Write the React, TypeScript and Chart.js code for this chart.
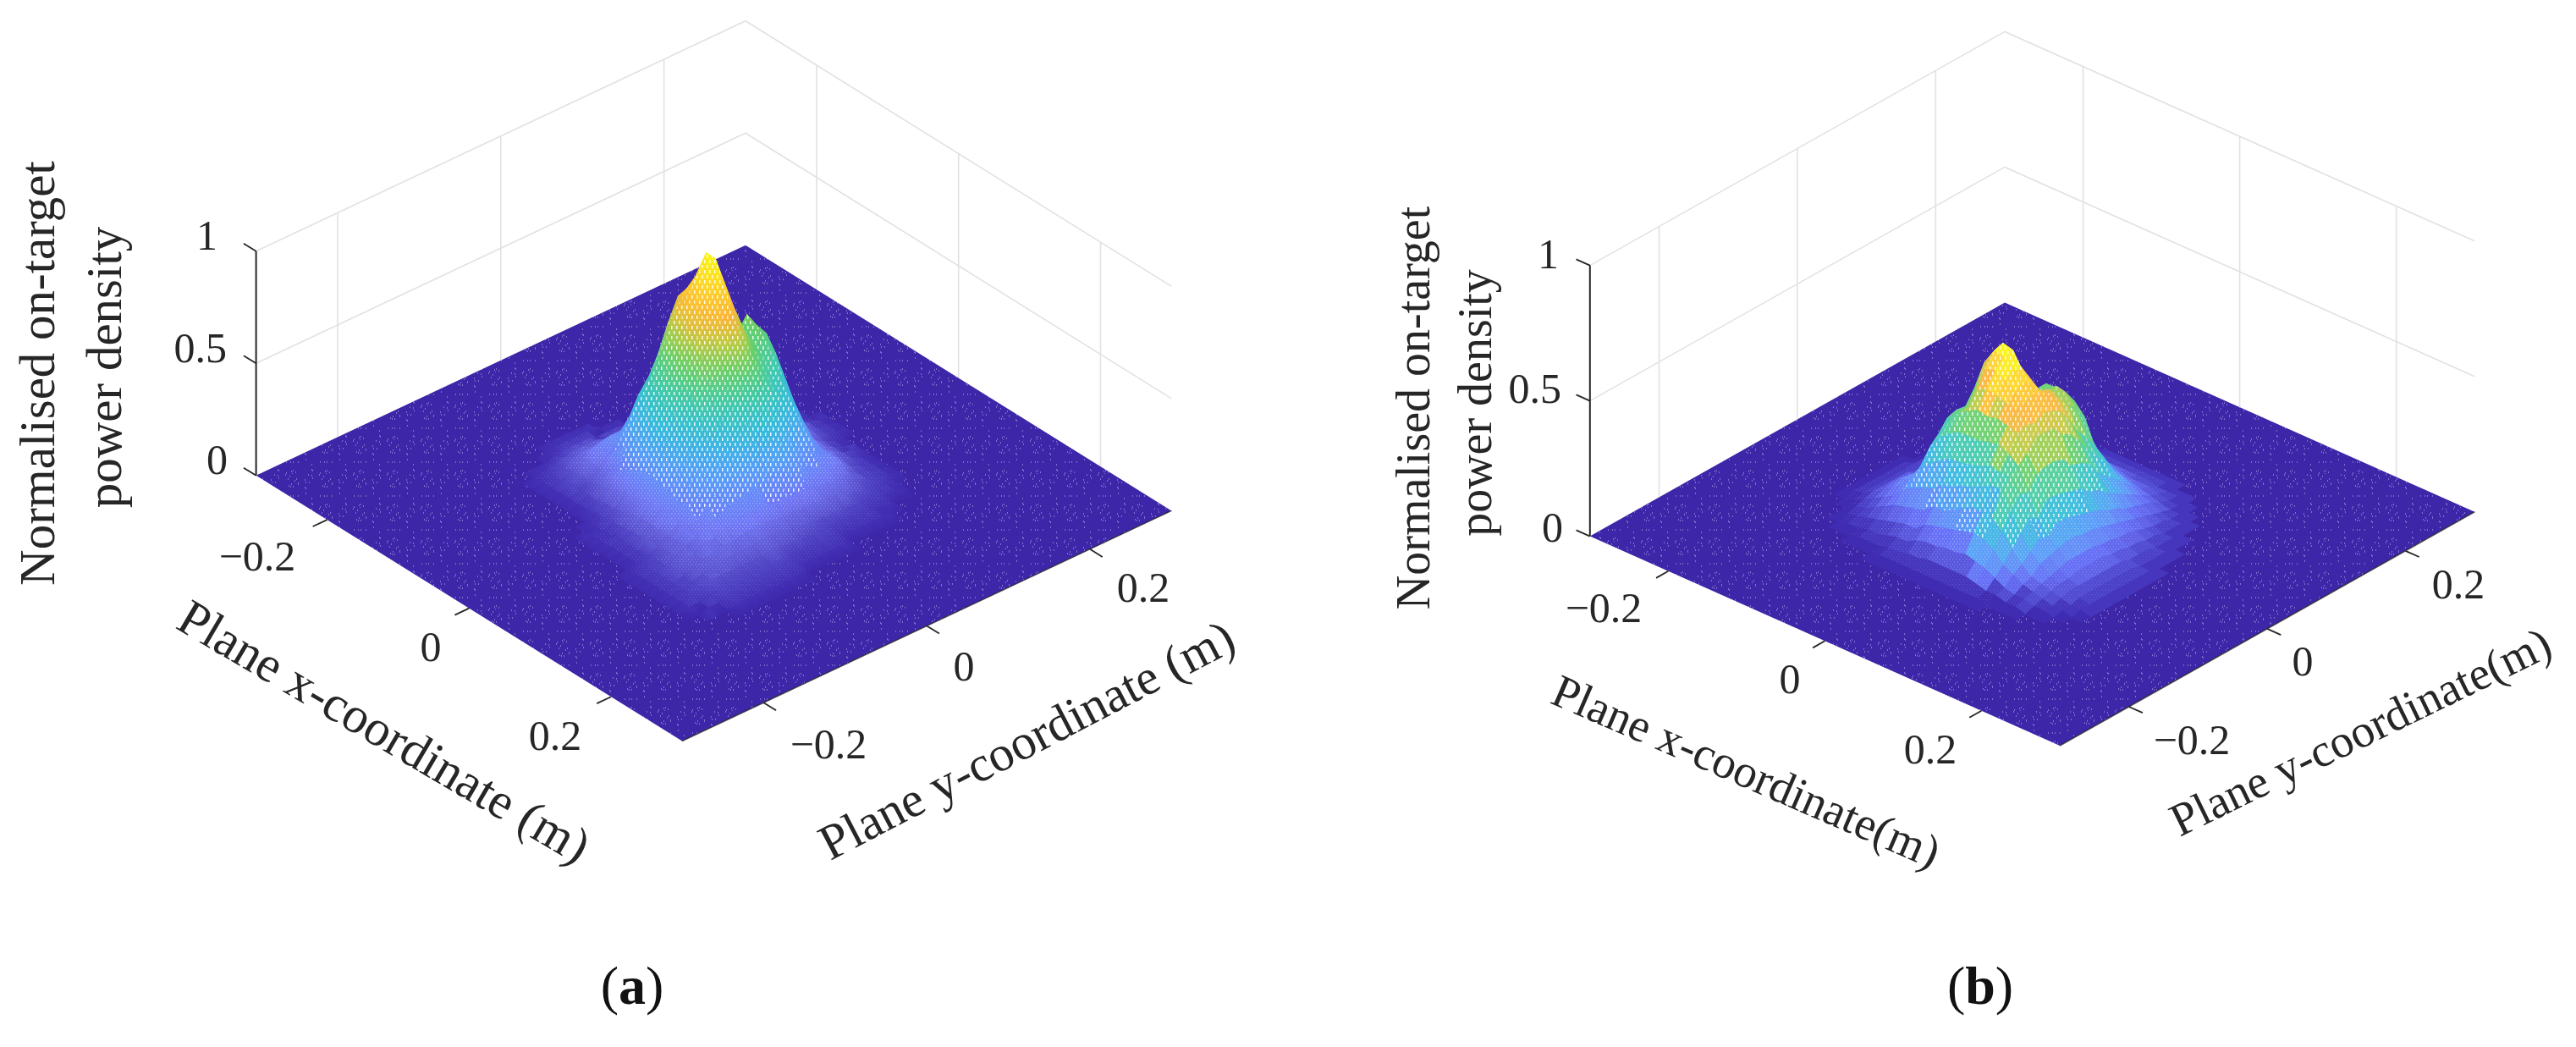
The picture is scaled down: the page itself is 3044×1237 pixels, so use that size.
import React, { useEffect, useRef } from "react";
import { Chart, registerables } from "chart.js";

Chart.register(...registerables);

const X_TICKS = [-0.2, 0, 0.2];
const Y_TICKS = [-0.2, 0, 0.2];
const Z_TICKS = [0, 0.5, 1];
const X_LABEL_A = "Plane x-coordinate (m)";
const Y_LABEL_A = "Plane y-coordinate (m)";
const X_LABEL_B = "Plane x-coordinate(m)";
const Y_LABEL_B = "Plane y-coordinate(m)";
const Z_LABEL = ["Normalised on-target", "power density"];
const GRID_START = -0.1875;
const GRID_STEP = 0.0125;

// Height, in percent. Rows: x, columns: y.
const HEIGHTS_A = [
[0,0,0,0,0,0,0,0,0,0,0,0,0,0,0,0,0,0,0,0,0,0,0,0,0,0,0,0,0,0,0],
[0,0,0,0,0,0,0,0,0,0,0,0,0,0,0,0,0,0,0,0,0,0,0,0,0,0,0,0,0,0,0],
[0,0,0,0,0,0,0,0,0,1,1,1,1,1,1,0,0,0,0,0,0,0,0,0,0,0,0,0,0,0,0],
[0,0,0,0,0,0,0,1,1,1,2,2,2,2,1,1,1,1,1,1,0,0,0,0,0,0,0,0,0,0,0],
[0,0,0,0,0,0,1,1,1,2,3,3,3,2,2,2,1,1,1,1,1,0,0,0,0,0,0,0,0,0,0],
[0,0,0,0,0,1,1,2,3,4,5,5,5,4,4,4,3,3,2,2,1,1,0,0,0,0,0,0,0,0,0],
[0,0,0,0,1,1,2,3,4,6,7,7,7,6,6,5,5,4,3,3,2,2,1,0,0,0,0,0,0,0,0],
[0,0,0,0,1,1,2,3,5,8,11,12,12,12,11,11,10,8,6,5,4,3,2,1,1,0,0,0,0,0,0],
[0,0,0,1,1,1,2,4,6,10,15,17,17,17,17,16,15,12,9,8,6,4,3,2,1,0,0,0,0,0,0],
[0,0,0,1,1,1,2,3,5,8,13,20,26,31,33,33,28,22,16,13,9,6,4,2,1,1,0,0,0,0,0],
[0,0,0,1,1,1,2,4,6,10,18,27,38,44,48,50,42,32,24,18,12,9,6,3,2,1,1,0,0,0,0],
[0,0,0,1,1,1,2,4,7,13,22,33,46,56,68,78,66,52,42,36,34,28,16,8,5,2,1,1,0,0,0],
[0,0,1,1,1,1,3,5,9,16,27,39,52,66,78,84,84,70,58,52,54,46,26,14,8,4,2,1,1,0,0],
[0,0,1,1,1,2,3,5,10,18,30,42,55,68,82,92,100,78,64,56,64,54,34,18,10,5,3,2,1,0,0],
[0,0,1,1,2,2,4,6,11,20,32,46,59,71,84,95,100,82,66,56,62,56,40,22,12,6,3,2,1,0,0],
[0,0,1,1,2,2,4,7,12,20,29,42,55,69,80,88,92,78,66,58,58,50,36,20,10,5,3,2,1,0,0],
[0,0,1,1,2,3,5,8,13,19,26,37,51,67,76,80,80,70,60,54,50,40,28,14,7,4,2,1,1,0,0],
[0,0,1,1,2,3,5,8,12,18,24,32,42,55,64,70,70,62,54,47,44,34,20,12,7,4,2,1,1,0,0],
[0,0,1,1,2,3,6,8,14,16,22,27,33,42,51,58,59,54,48,42,38,28,17,9,7,4,3,1,1,0,0],
[0,0,1,1,2,3,5,8,11,17,20,24,28,33,38,43,45,43,38,32,29,22,15,10,6,4,2,1,1,0,0],
[0,0,1,2,3,4,6,8,12,13,18,21,22,24,26,29,32,33,29,23,21,17,15,10,5,3,2,1,1,0,0],
[0,0,1,2,3,4,6,8,10,13,14,17,18,19,20,21,22,23,21,17,16,13,12,7,4,3,2,1,1,0,0],
[0,0,1,2,3,5,7,7,10,10,12,13,14,14,14,13,13,13,13,11,11,10,7,5,4,3,2,1,0,0,0],
[0,0,1,2,3,4,6,7,8,9,9,10,11,10,10,9,9,9,9,8,8,6,5,4,3,2,1,1,0,0,0],
[0,0,1,2,3,4,5,6,7,7,7,7,8,7,7,6,6,5,5,5,4,4,3,3,2,2,1,0,0,0,0],
[0,0,1,2,3,4,5,5,5,5,5,5,6,5,5,4,4,4,3,3,3,3,2,2,1,1,0,0,0,0,0],
[0,0,1,2,2,3,4,4,4,4,4,4,4,3,3,3,3,3,2,2,2,2,2,1,1,0,0,0,0,0,0],
[0,0,0,1,2,2,3,3,3,3,3,3,3,2,2,2,2,2,1,1,1,1,1,1,0,0,0,0,0,0,0],
[0,0,0,1,1,1,2,2,2,2,2,2,2,1,1,1,1,1,1,1,0,0,0,0,0,0,0,0,0,0,0],
[0,0,0,0,0,0,1,1,1,1,1,1,1,0,0,0,0,0,0,0,0,0,0,0,0,0,0,0,0,0,0],
[0,0,0,0,0,0,0,0,0,0,0,0,0,0,0,0,0,0,0,0,0,0,0,0,0,0,0,0,0,0,0],
];

// Height, in percent. Rows: x, columns: y.
const HEIGHTS_B = [
[0,0,0,0,0,0,0,0,0,0,0,0,0,0,0,0,0,0,0,0,0,0,0,0,0,0,0,0,0,0,0],
[0,0,0,0,0,0,0,1,1,1,1,1,1,1,1,1,1,1,0,0,0,0,0,0,0,0,0,0,0,0,0],
[0,0,0,0,0,0,1,1,1,2,2,2,2,2,2,2,1,1,1,0,0,0,0,0,0,0,0,0,0,0,0],
[0,0,0,0,0,1,1,1,2,3,3,3,3,3,3,3,3,2,2,1,1,0,0,0,0,0,0,0,0,0,0],
[0,0,0,0,1,1,2,3,4,5,5,5,5,5,4,4,4,3,2,1,1,0,0,0,0,0,0,0,0,0,0],
[0,0,0,1,1,2,3,4,6,7,8,8,7,6,6,6,5,4,4,2,2,1,1,1,0,0,0,0,0,0,0],
[0,0,0,1,1,2,4,6,8,10,11,11,10,10,9,9,8,6,5,3,2,2,1,1,0,0,0,0,0,0,0],
[0,0,1,1,2,3,5,8,10,12,12,12,12,13,14,14,12,10,8,5,4,3,2,1,1,0,0,0,0,0,0],
[0,0,1,1,2,3,6,10,14,17,19,20,21,21,22,21,17,14,10,7,5,3,2,1,1,0,0,0,0,0,0],
[0,0,1,1,2,4,7,11,16,22,28,31,35,36,35,31,25,19,14,11,7,5,3,2,1,1,0,0,0,0,0],
[0,0,1,2,3,5,8,12,18,25,33,37,37,39,44,42,32,24,18,14,9,6,4,3,1,1,0,0,0,0,0],
[0,0,1,2,3,5,8,13,19,28,36,42,42,47,55,54,43,34,28,27,26,20,12,7,3,2,1,1,0,0,0],
[0,0,1,2,4,7,11,16,22,30,38,44,50,56,61,62,54,50,38,38,38,30,18,10,5,3,2,1,0,0,0],
[0,0,1,2,4,8,12,16,23,30,38,46,52,57,60,61,52,47,38,40,38,34,20,11,6,3,2,1,0,0,0],
[0,0,1,2,5,8,13,18,25,31,38,45,51,55,57,55,49,44,42,42,38,33,22,12,6,3,2,1,0,0,0],
[0,0,1,2,5,9,14,20,26,32,39,46,50,52,54,52,47,46,41,37,34,29,18,10,6,3,2,1,1,0,0],
[0,0,1,2,5,9,15,22,28,34,40,45,49,50,51,50,48,44,40,36,28,20,13,8,5,3,2,1,1,0,0],
[0,0,1,2,5,10,16,22,30,33,38,44,45,44,46,45,43,38,32,28,23,17,11,7,4,3,2,1,1,0,0],
[0,0,1,2,5,9,15,21,30,33,35,38,42,42,42,38,36,32,27,23,19,14,10,6,4,3,2,1,0,0,0],
[0,0,1,2,4,8,13,18,24,28,27,32,33,33,32,28,27,25,20,17,14,11,8,5,4,2,2,1,0,0,0],
[0,0,1,2,3,6,9,13,17,21,19,24,24,23,22,21,18,17,14,12,10,8,6,4,3,2,1,1,0,0,0],
[0,0,1,1,3,4,7,9,12,15,14,17,17,16,15,14,13,11,10,8,7,6,5,3,2,2,1,0,0,0,0],
[0,0,0,1,2,3,5,6,9,10,11,12,12,11,11,10,9,8,7,6,5,4,3,2,2,1,1,0,0,0,0],
[0,0,0,1,2,3,4,5,6,7,8,8,8,8,7,7,6,6,5,4,3,3,2,2,1,1,0,0,0,0,0],
[0,0,0,1,1,2,3,4,5,5,6,6,6,6,5,5,4,4,3,3,2,2,2,1,1,0,0,0,0,0,0],
[0,0,0,1,1,2,2,3,4,4,4,4,4,4,4,3,3,3,2,2,2,1,1,1,0,0,0,0,0,0,0],
[0,0,0,0,1,1,2,2,3,3,3,3,3,3,3,2,2,2,2,1,1,1,1,0,0,0,0,0,0,0,0],
[0,0,0,0,1,1,1,2,2,2,2,2,2,2,2,2,1,1,1,1,1,0,0,0,0,0,0,0,0,0,0],
[0,0,0,0,0,1,1,1,1,1,1,1,1,1,1,1,1,1,1,0,0,0,0,0,0,0,0,0,0,0,0],
[0,0,0,0,0,0,0,0,0,0,0,0,0,0,0,0,0,0,0,0,0,0,0,0,0,0,0,0,0,0,0],
[0,0,0,0,0,0,0,0,0,0,0,0,0,0,0,0,0,0,0,0,0,0,0,0,0,0,0,0,0,0,0],
];

type P = { x: number; y: number };
const SERIF = '"Liberation Serif", serif';
const INK = "#262626";
const GRID = "#e2e2e2";
const FLOOR = "#3e26a8";

const PARULA: number[][] = [
  [0, 62, 38, 168], [0.125, 72, 82, 244], [0.25, 46, 135, 247], [0.375, 18, 177, 214],
  [0.5, 45, 197, 160], [0.62, 95, 204, 90], [0.72, 190, 200, 55], [0.8, 250, 178, 50],
  [0.9, 254, 208, 40], [1, 250, 245, 20],
];
// How much of the white behind the mesh shows through at a given height.
const SHOW_THROUGH: number[][] = [
  [0, 0], [0.01, 0], [0.03, 0.05], [0.06, 0.14], [0.12, 0.22], [0.25, 0.2], [0.5, 0.1], [0.8, 0.03], [1, 0],
];
function lookup(table: number[][], t: number) {
  let k = 0;
  while (k < table.length - 2 && t > table[k + 1][0]) k++;
  const a = table[k], b = table[k + 1];
  const f = Math.max(0, Math.min(1, (t - a[0]) / (b[0] - a[0])));
  return a.slice(1).map((v, n) => v + (b[n + 1] - v) * f);
}
function shade(z: number, peak: number) {
  const rgb = lookup(PARULA, (z * 100) / peak);
  const [m] = lookup(SHOW_THROUGH, z);
  return `rgb(${rgb.map((c) => Math.round(c + (255 - c) * m)).join(",")})`;
}

function tile(w: number, h: number, paint: (c: CanvasRenderingContext2D) => void) {
  const cv = document.createElement("canvas");
  cv.width = w;
  cv.height = h;
  const c = cv.getContext("2d")!;
  paint(c);
  return c.createPattern(cv, "repeat")!;
}

function floorTile() {
  return tile(40, 40, (c) => {
    c.fillStyle = FLOOR;
    c.fillRect(0, 0, 40, 40);
    c.fillStyle = "rgba(128,112,205,0.75)";
    let s = 7;
    for (let n = 0; n < 110; n++) {
      s = (s * 137 + 59) % 1601;
      const x = s % 40;
      s = (s * 137 + 59) % 1601;
      const y = s % 40;
      c.fillRect(x, y, 1, 2);
    }
  });
}

function meshTiles() {
  const levels: CanvasPattern[][] = [];
  for (let l = 0; l <= 10; l++) {
    const a = l / 10;
    const fine = tile(4, 6, (c) => {
      c.fillStyle = `rgba(255,255,255,${a})`;
      c.fillRect(1, 0, 1.5, 1.5);
      c.fillRect(3, 3, 1.5, 1.5);
    });
    const coarse = tile(6, 12, (c) => {
      c.fillStyle = `rgba(255,255,255,${a})`;
      c.fillRect(1, 1, 1.5, 4);
      c.fillRect(4, 7, 1.5, 4);
    });
    levels.push([fine, coarse]);
  }
  return levels;
}

type Panel = {
  heights: number[][];
  peak: number;
  left: P; back: P; front: P;
  zPx: number;
  xMin: number; xMax: number;
  texts: { t: string; x: number; y: number; size: number; rot?: number; align?: CanvasTextAlign }[];
  caption: { letter: string; x: number; y: number };
};

const fmt = (v: number) => (v < 0 ? "\u2212" : "") + String(Math.abs(v));

const PANEL_A: Panel = {
  heights: HEIGHTS_A,
  peak: 100,
  left: { x: 302.6, y: 561.8 },
  back: { x: 881, y: 289.7 },
  front: { x: 806, y: 875.5 },
  zPx: 265,
  xMin: 0, xMax: 1522,
  texts: [
    { t: Z_LABEL[0], x: 48, y: 441, size: 59, rot: -90 },
    { t: Z_LABEL[1], x: 127, y: 434, size: 59, rot: -90 },
    { t: fmt(Z_TICKS[0]), x: 269, y: 547, size: 50, align: "right" },
    { t: fmt(Z_TICKS[1]), x: 268, y: 415, size: 50, align: "right" },
    { t: fmt(Z_TICKS[2]), x: 257, y: 282, size: 50, align: "right" },
    { t: fmt(X_TICKS[0]), x: 304, y: 661, size: 50 },
    { t: fmt(X_TICKS[1]), x: 509, y: 768, size: 50 },
    { t: fmt(X_TICKS[2]), x: 656, y: 873, size: 50 },
    { t: fmt(Y_TICKS[0]), x: 979, y: 883, size: 50 },
    { t: fmt(Y_TICKS[1]), x: 1139, y: 791, size: 50 },
    { t: fmt(Y_TICKS[2]), x: 1351, y: 698, size: 50 },
    { t: X_LABEL_A, x: 452, y: 868, size: 60, rot: 30.5 },
    { t: Y_LABEL_A, x: 1215, y: 878, size: 59, rot: -27.5 },
  ],
  caption: { letter: "a", x: 747, y: 1169 },
};

const PANEL_B: Panel = {
  heights: HEIGHTS_B,
  peak: 62,
  left: { x: 1878.8, y: 633.6 },
  back: { x: 2369, y: 357.4 },
  front: { x: 2434, y: 881 },
  zPx: 320,
  xMin: 1522, xMax: 3044,
  texts: [
    { t: Z_LABEL[0], x: 1674, y: 482, size: 56, rot: -90 },
    { t: Z_LABEL[1], x: 1747, y: 476, size: 56, rot: -90 },
    { t: fmt(Z_TICKS[0]), x: 1847, y: 627, size: 50, align: "right" },
    { t: fmt(Z_TICKS[1]), x: 1845, y: 463, size: 50, align: "right" },
    { t: fmt(Z_TICKS[2]), x: 1842, y: 304, size: 50, align: "right" },
    { t: fmt(X_TICKS[0]), x: 1895, y: 722, size: 50 },
    { t: fmt(X_TICKS[1]), x: 2115, y: 806, size: 50 },
    { t: fmt(X_TICKS[2]), x: 2281, y: 889, size: 50 },
    { t: fmt(Y_TICKS[0]), x: 2590, y: 878, size: 50 },
    { t: fmt(Y_TICKS[1]), x: 2721, y: 785, size: 50 },
    { t: fmt(Y_TICKS[2]), x: 2905, y: 694, size: 50 },
    { t: X_LABEL_B, x: 2062, y: 915, size: 55, rot: 23.5 },
    { t: Y_LABEL_B, x: 2791, y: 868, size: 55, rot: -26 },
  ],
  caption: { letter: "b", x: 2340, y: 1169 },
};

function buildDatasets(p: Panel, ctx: CanvasRenderingContext2D) {
  const ux = (p.front.x - p.left.x) / 0.6, uy = (p.front.y - p.left.y) / 0.6;
  const vx = (p.back.x - p.left.x) / 0.6, vy = (p.back.y - p.left.y) / 0.6;
  const proj = (x: number, y: number, z: number): P => ({
    x: p.left.x + (x + 0.3) * ux + (y + 0.3) * vx,
    y: p.left.y + (x + 0.3) * uy + (y + 0.3) * vy - z * p.zPx,
  });
  const ds: any[] = [];
  const line = (pts: P[], color: string, width: number) =>
    ds.push({ data: pts, borderColor: color, borderWidth: width, fill: false, pointRadius: 0, tension: 0 });
  const area = (pts: P[], bg: any, border: any = "transparent", width = 0) =>
    ds.push({ data: [...pts, pts[0]], backgroundColor: bg, borderColor: border, borderWidth: width, fill: "shape", pointRadius: 0, tension: 0 });

  // back walls
  for (const z of Z_TICKS.slice(1)) {
    line([proj(-0.3, -0.3, z), proj(-0.3, 0.3, z), proj(0.3, 0.3, z)], GRID, 1.6);
  }
  for (const y of Y_TICKS) line([proj(-0.3, y, 0), proj(-0.3, y, 1)], GRID, 1.6);
  for (const x of X_TICKS) line([proj(x, 0.3, 0), proj(x, 0.3, 1)], GRID, 1.6);

  // floor
  area([proj(-0.3, -0.3, 0), proj(0.3, -0.3, 0), proj(0.3, 0.3, 0), proj(-0.3, 0.3, 0)], floorTile());

  // axes
  line([proj(-0.3, -0.3, 0), proj(-0.3, -0.3, 1)], INK, 2);
  line([proj(0.3, -0.3, 0), proj(0.3, 0.3, 0)], "rgba(38,38,38,0.75)", 1.6);
  for (const z of Z_TICKS) line([proj(-0.3, -0.3, z), proj(-0.3175, -0.3, z)], INK, 1.8);
  for (const x of X_TICKS) line([proj(x, -0.3, 0), proj(x, -0.3175, 0)], INK, 1.8);
  for (const y of Y_TICKS) line([proj(0.3, y, 0), proj(0.3175, y, 0)], INK, 1.8);

  // surface, painted from the back corner to the front corner
  const h = p.heights;
  const n = h.length;
  const levels = meshTiles();
  const cells: [number, number][] = [];
  for (let i = 0; i < n - 1; i++) for (let j = 0; j < n - 1; j++) cells.push([i, j]);
  cells.sort((a, b) => a[0] - a[1] - (b[0] - b[1]));
  const flatArea = Math.abs(ux * vy - uy * vx) * GRID_STEP * GRID_STEP;
  for (const [i, j] of cells) {
    const zs = [h[i][j], h[i + 1][j], h[i + 1][j + 1], h[i][j + 1]].map((v) => v / 100);
    const zmax = Math.max(...zs), zmin = Math.min(...zs);
    if (zmax <= 0.01) continue;
    const xs = [i, i + 1, i + 1, i], ys = [j, j, j + 1, j + 1];
    const pts = zs.map((z, k) => proj(GRID_START + xs[k] * GRID_STEP, GRID_START + ys[k] * GRID_STEP, z));
    const lo = pts[zs.indexOf(zmin)], hi = pts[zs.indexOf(zmax)];
    const g = ctx.createLinearGradient(lo.x, lo.y, hi.x + 0.01, hi.y + 0.01);
    g.addColorStop(0, shade(zmin, p.peak));
    g.addColorStop(0.5, shade((zmin + zmax) / 2, p.peak));
    g.addColorStop(1, shade(zmax, p.peak));
    area(pts, g, g, 1);
    let signed = 0;
    for (let k = 0; k < 4; k++) {
      const a = pts[k], b = pts[(k + 1) % 4];
      signed += a.x * b.y - b.x * a.y;
    }
    const ratio = (signed / 2 / flatArea) * Math.sign(ux * vy - uy * vx);
    const zm = (zs[0] + zs[1] + zs[2] + zs[3]) / 4;
    if (zm < 0.02) continue;
    let lvl: number;
    let kind = 0;
    if (zm < 0.05) lvl = 1;
    else if (zm < 0.1) lvl = 2;
    else if (zm < 0.17) lvl = 3;
    else {
      kind = 1;
      const w = 0.35 + 0.6 * (ratio - 1) - 1.6 * (1 - Math.min(1, ratio));
      lvl = Math.round(Math.max(0, Math.min(0.85, w)) * 10);
    }
    if (lvl > 0) area(pts, levels[lvl][kind]);
  }
  return ds.reverse();
}

function textPlugin(p: Panel) {
  return {
    id: "panelText",
    afterDraw(chart: any) {
      const c: CanvasRenderingContext2D = chart.ctx;
      const sx = chart.scales.x, sy = chart.scales.y;
      c.save();
      c.fillStyle = INK;
      c.textBaseline = "middle";
      for (const t of p.texts) {
        c.save();
        c.translate(sx.getPixelForValue(t.x), sy.getPixelForValue(t.y));
        c.rotate(((t.rot || 0) * Math.PI) / 180);
        c.font = `${t.size}px ${SERIF}`;
        c.textAlign = t.align || "center";
        c.fillText(t.t, 0, 0);
        c.restore();
      }
      const size = 64;
      c.textAlign = "left";
      c.fillStyle = "#111";
      const reg = `${size}px ${SERIF}`, bold = `bold ${size}px ${SERIF}`;
      c.font = reg;
      const wp = c.measureText("(").width, wq = c.measureText(")").width;
      c.font = bold;
      const wl = c.measureText(p.caption.letter).width;
      let x = sx.getPixelForValue(p.caption.x) - (wp + wq + wl) / 2;
      const y = sy.getPixelForValue(p.caption.y);
      c.font = reg;
      c.fillText("(", x, y);
      x += wp;
      c.font = bold;
      c.fillText(p.caption.letter, x, y);
      x += wl;
      c.font = reg;
      c.fillText(")", x, y);
      c.restore();
    },
  };
}

function PanelChart({ panel }: { panel: Panel }) {
  const ref = useRef<HTMLCanvasElement>(null);
  useEffect(() => {
    document.body.style.margin = "0";
    const canvas = ref.current!;
    const ctx = canvas.getContext("2d")!;
    const chart = new Chart(canvas, {
      type: "line",
      data: { datasets: buildDatasets(panel, ctx) },
      plugins: [textPlugin(panel)],
      options: {
        animation: false,
        responsive: false,
        events: [],
        layout: { padding: 0 },
        plugins: { legend: { display: false }, tooltip: { enabled: false }, title: { display: false } },
        scales: {
          x: { type: "linear", display: false, min: panel.xMin, max: panel.xMax },
          y: { type: "linear", display: false, min: 0, max: 1237, reverse: true },
        },
      },
    } as any);
    return () => chart.destroy();
  }, [panel]);
  return <canvas ref={ref} width={1522} height={1237} style={{ display: "block", width: 1522, height: 1237 }} />;
}

export default function App() {
  return (
    <div style={{ display: "flex", width: 3044, height: 1237, background: "#fff" }}>
      <PanelChart panel={PANEL_A} />
      <PanelChart panel={PANEL_B} />
    </div>
  );
}
